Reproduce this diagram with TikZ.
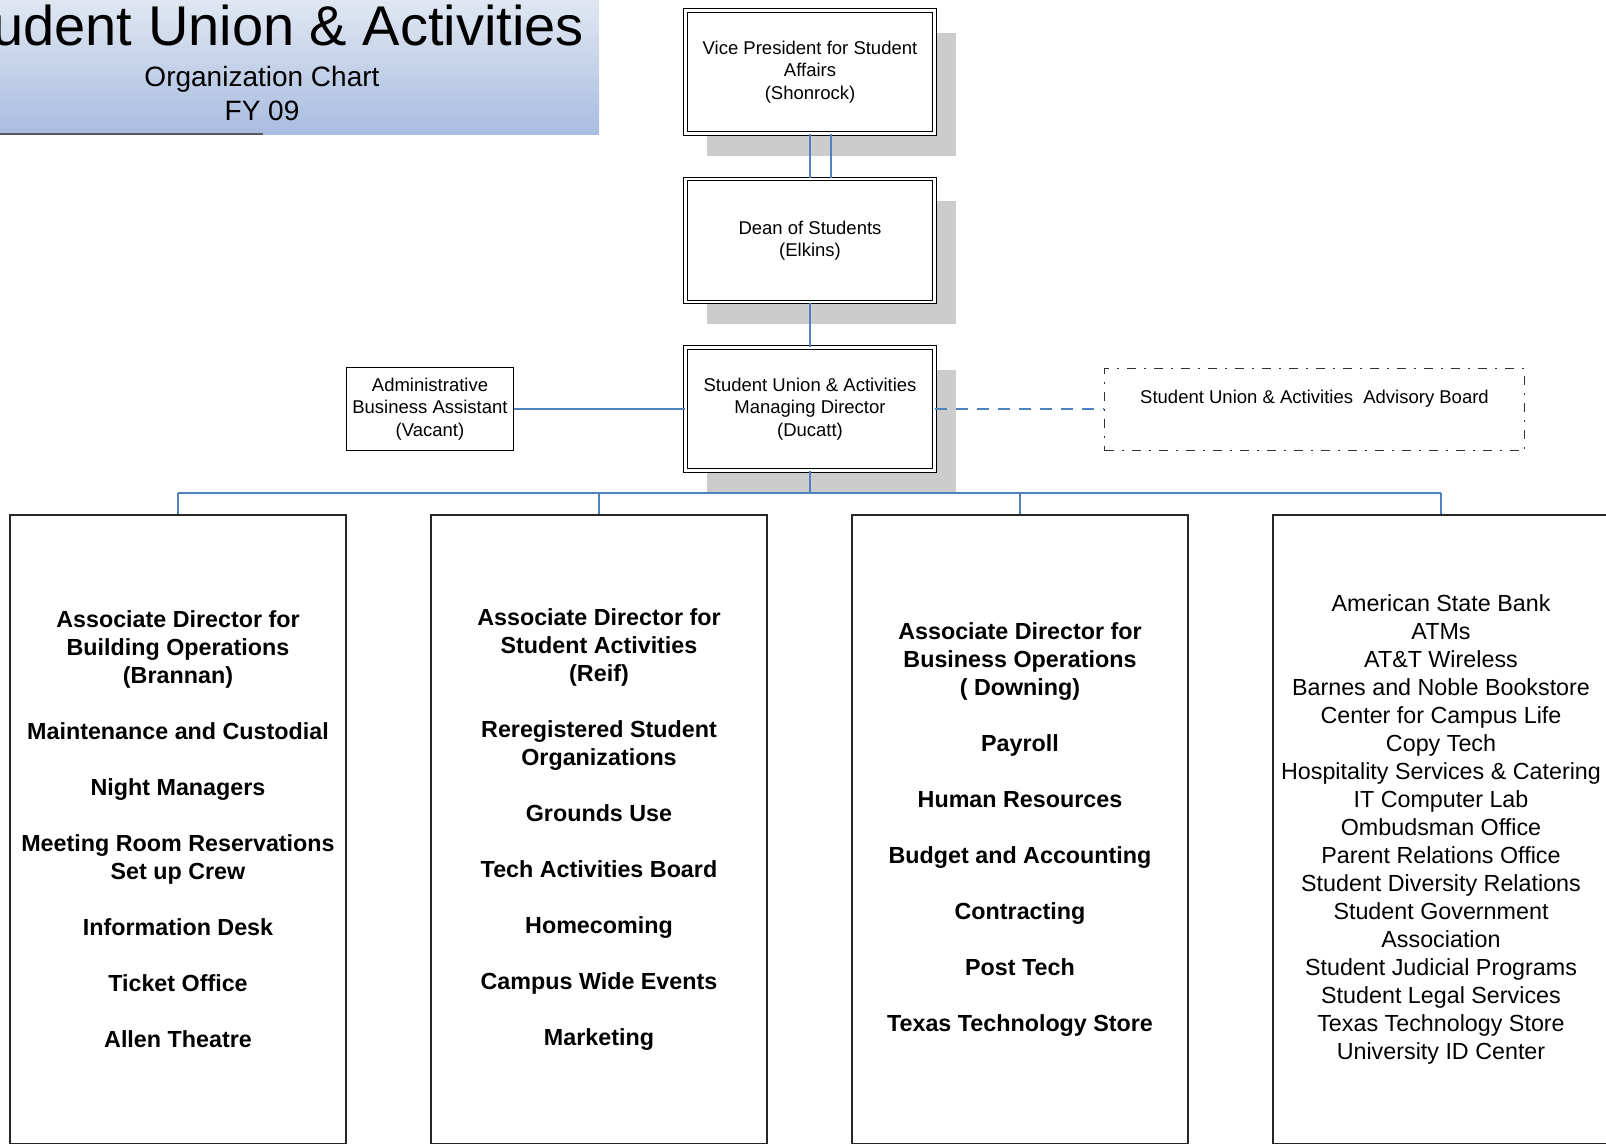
\documentclass[tikz,border=0pt]{standalone}
\usepackage{fontspec}
\setmainfont{Liberation Sans}
\usetikzlibrary{shadows,calc}
\definecolor{linkblue}{HTML}{4F81BD}
\definecolor{shadowgrey}{HTML}{CCCCCC}
\definecolor{bannertop}{HTML}{E0E7F2}
\definecolor{bannerbot}{HTML}{A9BDE0}
\begin{document}
\begin{tikzpicture}[x=1pt,y=-1pt,line join=miter]
	\tikzset{headbox/.style={draw=black,line width=1.2pt,double=white,double distance=2.4pt,fill=white,minimum width=249pt,minimum height=123pt,align=center,inner sep=2pt,font=\fontsize{18.5}{22.5}\selectfont,drop shadow={shadow xshift=21pt,shadow yshift=-22pt,fill=shadowgrey,opacity=1}}}
	\tikzset{smallbox/.style={draw=black,line width=1.3pt,fill=white,minimum width=167pt,minimum height=83pt,align=center,inner sep=2pt,font=\fontsize{18.5}{22.5}\selectfont}}
	\tikzset{boardbox/.style={draw=black!80,line width=1.3pt,dash pattern=on 9pt off 8pt on 2pt off 8pt,minimum width=420pt,minimum height=82pt,inner sep=0pt,text height=14pt,text depth=27pt,font=\fontsize{18.5}{22.5}\selectfont}}
	\tikzset{colbox/.style={draw=black!85,line width=1.3pt,minimum width=336pt,minimum height=629pt,align=center,inner sep=0pt,font=\fontsize{23.3}{28}\selectfont}}
	\tikzset{link/.style={draw=linkblue,line width=1.3pt}}
	\useasboundingbox (0,0) rectangle (1606,1143);
	\begin{scope}
		\clip (0,0) rectangle (1606,1143);
		\shade[top color=bannertop,bottom color=bannerbot] (0,0) rectangle (599,134);
		\draw[line width=2pt,black!65] (0,134)--(263,134);
		\node[anchor=base east,inner sep=0pt,font=\fontsize{56}{60}\selectfont] (title) at (584,45) {Student Union \& Activities};
		\node[anchor=base,inner sep=0pt,font=\fontsize{28}{34}\selectfont] (subtitle) at (262,86) {Organization Chart};
		\node[anchor=base,inner sep=0pt,font=\fontsize{28}{34}\selectfont] (fy) at (262,120) {FY 09};
	\end{scope}
	\node[headbox] (vp) at (810,72) {Vice President for Student\\Affairs\\(Shonrock)};
	\node[headbox] (dean) at (810,240.5) {Dean of Students\\(Elkins)};
	\node[headbox] (md) at (810,409) {Student Union \& Activities\\Managing Director\\(Ducatt)};
	\node[smallbox] (admin) at (430,409) {Administrative\\Business Assistant\\(Vacant)};
	\node[boardbox] (board) at (1314.5,409.5) {Student Union \& Activities\ \ Advisory Board};
	\node[colbox,font=\fontsize{23.3}{28}\selectfont\bfseries] (col1) at (178,829.5) {Associate Director for\\Building Operations\\(Brannan)\\[28pt]Maintenance and Custodial\\[28pt]Night Managers\\[28pt]Meeting Room Reservations\\Set up Crew\\[28pt]Information Desk\\[28pt]Ticket Office\\[28pt]Allen Theatre};
	\node[colbox,font=\fontsize{23.3}{28}\selectfont\bfseries] (col2) at (599,829.5) {Associate Director for\\Student Activities\\(Reif)\\[28pt]Reregistered Student\\Organizations\\[28pt]Grounds Use\\[28pt]Tech Activities Board\\[28pt]Homecoming\\[28pt]Campus Wide Events\\[28pt]Marketing};
	\node[colbox,font=\fontsize{23.3}{28}\selectfont\bfseries] (col3) at (1020,829.5) {Associate Director for\\Business Operations\\( Downing)\\[28pt]Payroll\\[28pt]Human Resources\\[28pt]Budget and Accounting\\[28pt]Contracting\\[28pt]Post Tech\\[28pt]Texas Technology Store};
	\node[colbox] (col4) at (1441,829.5) {American State Bank\\ATMs\\AT\&T Wireless\\Barnes and Noble Bookstore\\Center for Campus Life\\Copy Tech\\Hospitality Services \& Catering\\IT Computer Lab\\Ombudsman Office\\Parent Relations Office\\Student Diversity Relations\\Student Government\\Association\\Student Judicial Programs\\Student Legal Services\\Texas Technology Store\\University ID Center};
	\coordinate (bus) at (810,493);
	\draw[link] (vp.south)--(dean.north);
	\draw[link] ($(vp.south)+(21,0)$)--($(dean.north)+(21,0)$);
	\draw[link] (dean.south)--(md.north);
	\draw[link] (admin.east)--(md.west);
	\draw[link,dash pattern=on 12pt off 9pt] (md.east)--(md.east -| board.west);
	\draw[link] (md.south)--(md.south |- bus);
	\draw[link] (col1.north |- bus)--(col4.north |- bus);
	\foreach \c in {col1,col2,col3,col4}
	\draw[link] (\c.north)--(\c.north |- bus);
\end{tikzpicture}
\end{document}
